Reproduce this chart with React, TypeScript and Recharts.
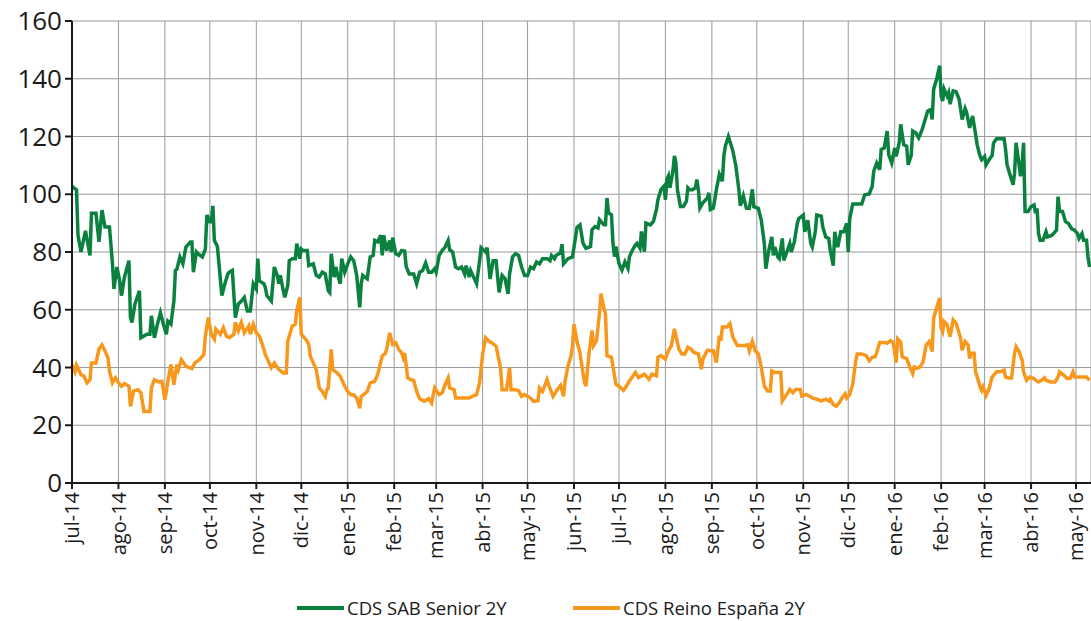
import { LineChart, Line, XAxis, YAxis, CartesianGrid } from 'recharts';

// x values are days counted from 1 Jul 2014
const monthTicks = [0, 31, 62, 92, 123, 153, 184, 215, 243, 274, 304, 335, 365, 396, 427, 457, 488, 518, 549, 580, 609, 640, 670];
const monthLabels = [
  'jul-14', 'ago-14', 'sep-14', 'oct-14', 'nov-14', 'dic-14', 'ene-15', 'feb-15', 'mar-15', 'abr-15', 'may-15', 'jun-15',
  'jul-15', 'ago-15', 'sep-15', 'oct-15', 'nov-15', 'dic-15', 'ene-16', 'feb-16', 'mar-16', 'abr-16', 'may-16',
];
const yTicks = [0, 20, 40, 60, 80, 100, 120, 140, 160];

const sabDays = [
  0, 3, 4, 6, 9, 12, 13, 16, 18, 20, 22, 25, 27, 28, 30, 32, 33, 35, 38, 39, 40, 42, 45, 46, 50, 52, 53, 55, 57, 59,
  61, 63, 64, 66, 68, 69, 70, 72, 74, 76, 79, 80, 81, 83, 84, 87, 89, 90, 92, 93, 94, 95, 97, 100, 102, 104,
  105, 107, 109, 111, 113, 115, 117, 119, 121, 123, 124, 125, 128, 129, 130, 133, 135, 137, 138, 139, 141, 142, 144,
  145, 147, 149, 150, 152, 153, 154, 157, 158, 161, 163, 165, 167, 169, 171, 172, 173, 175, 176, 178, 179, 180, 182,
  184, 186, 188, 190, 192, 193, 194, 197, 199, 201, 202, 204, 206, 207, 208, 210, 212, 213, 214, 216, 218,
  220, 222, 223, 225, 228, 230, 232, 234, 236, 238, 240, 242, 243, 245, 247, 249, 251, 252, 254, 256, 258, 260, 262,
  263, 265, 266, 268, 270, 272, 273, 276, 277, 279, 281, 283, 285, 287, 289, 291, 292, 294, 296, 298, 300, 302, 304,
  306, 308, 310, 312, 314, 317, 319, 320, 322, 323, 326, 327, 328, 331, 334,
  336, 337, 339, 341, 343, 346, 347, 349, 351, 352, 355, 356, 357, 358, 360, 361, 362, 363, 365, 367, 369, 371, 372,
  374, 376, 377, 379, 380, 382, 383, 386, 388, 390, 391, 393, 395, 396, 397, 398, 399, 401, 402, 403, 404, 406, 408,
  410, 411, 412, 414, 416, 417, 418, 419, 421, 424, 425, 426, 428, 430, 432, 434, 435, 436, 438, 440, 441, 443, 445,
  446, 448, 450, 452, 454, 455, 458, 460, 462, 463, 465, 467, 468, 469, 471, 472, 474, 475, 477, 479, 480, 482, 484,
  485, 488, 489, 491, 493, 494, 496, 497, 500, 501, 503, 505, 506, 508, 509, 511, 513, 515, 517, 518, 519, 521, 525,
  527, 529, 532, 534, 535, 537, 539, 540, 542, 544, 545, 547, 549, 550, 552, 553, 555, 557, 558, 560, 561, 563, 565,
  567, 569, 571, 573, 574, 575, 577, 579, 580, 581, 582, 584, 585, 586, 588, 590, 592, 593, 594, 596, 597, 599, 600,
  601, 603, 604, 606, 607, 609, 610, 612, 614, 615, 617, 619, 622, 623, 624, 626, 628, 629, 630, 632, 633, 634, 635,
  636, 638, 640, 642, 643, 644, 645, 646, 648, 650, 651, 654, 656, 657, 658, 659, 661, 663, 665, 667, 669, 671, 672,
  674, 675, 677, 678, 679,
];
const sabValues = [
  102.7, 101.5, 85.8, 80, 87.3, 78.8, 93.4, 93.4, 83.5, 94.5, 88.7, 88.7, 76, 67.2, 74.8, 69.5, 64.9, 71.3, 77, 57.3,
  55.6, 62, 66.6, 50.3, 51.5, 51.5, 57.9, 50.3, 55, 59, 55, 51.5, 56, 55, 63, 73.6, 74, 78.3, 76, 81.7, 83.5, 83.5,
  73, 80, 79.4, 78.3, 81, 92.8, 90.5, 90.5, 96, 84, 82, 64.9, 69, 72.4,
  73, 73.6, 57.3, 62, 63, 64.3, 59.6, 59.6, 69, 67.2, 77.7, 70, 69, 67.8, 64.9, 63, 74.8, 71.9, 69, 71.9, 66.6, 64.3,
  68.4, 77, 77.7, 77.7, 82.9, 77.7, 81, 80.5, 80.5, 75.3, 75.9, 71.9, 71.3, 73, 72.4, 66.6, 66, 79.4, 71.3, 74.8, 70.7,
  69, 77.7, 73, 75.9, 78.3, 77, 71.9, 60.8, 69, 71.9, 70.7, 78.3, 78.8, 84, 83.5, 85.8, 78.8, 85.8, 80.5, 84, 80, 85,
  79.4, 78.8,
  80.5, 80.3, 75, 72.4, 72.4, 69, 73, 73.6, 76.2, 73, 73, 74.2, 73, 78.8, 80.5, 81.7, 84, 80.8, 80, 74.8, 74.2, 74.8,
  72.4, 75.3, 71.3, 73.6, 71.3, 69, 77, 81.5, 80, 81.5, 70.7, 77, 77, 66, 71.9, 70.7, 65.5, 72.4, 78.3, 79.4, 78.8,
  74.8, 71.9, 71.9, 74.8, 74.2, 76.5, 75.9, 77.7, 77.7, 77, 78.8, 77.7, 78.8, 79.7, 82.7, 75.9, 77.7, 78.3,
  85, 88.5, 89.4, 83, 81.3, 81.9, 87.7, 88.8, 88.3, 91.2, 89.4, 89.4, 98.7, 93.5, 92.9, 83, 78.4, 81.9, 76, 73.7, 76.6,
  74.3, 78.4, 80.7, 82.4, 83, 81.3, 87.1, 80.1, 90, 89.4, 90.6, 94.7, 98.1, 101.6, 102.8, 98.1, 105.1, 106.3, 102.2,
  108, 113.3, 111, 101.6, 95.8, 95.8, 97.6, 102.2, 101.6, 101.6, 102.2, 105.1, 101.6, 95.2, 97, 98.7, 100.5, 94.7,
  95.2, 101.6, 106.9, 104.5, 113.3, 116.7, 120, 116.7, 115, 109.8, 101.6,
  96, 99.5, 95.2, 95.1, 101.7, 95.7, 95.1, 91, 82.9, 74.2, 80.6, 85.2, 78.8, 81.7, 78.3, 77.7, 84.7, 77.1, 80, 82.9, 80,
  83.5, 89.9, 91.6, 92.8, 87, 91, 82.9, 81.7, 87, 92.8, 92.4, 88.7, 85.2, 84.7, 80.6, 75.3, 87, 81.7, 87, 87, 89.9, 80,
  91.6, 96.6, 96.6, 96.6, 99.8, 100.1, 102.7, 107.9, 110.8, 108.5, 115.5, 116, 121.9, 113.7, 110.8, 116, 113.1, 117.8,
  124.2, 117.2, 116.6, 110.2, 113.4, 121.9, 121.3, 119.5, 121.9, 125.3, 128.8, 129.4, 125.9, 136.4, 139.9, 144.5, 134,
  132.3, 136.4, 134, 135.2, 131.2, 135.8, 135.5, 132.9, 129.4, 125.9, 129.7, 128.3, 123, 125.3, 127.1, 120.7, 117.2,
  113.1, 112, 113.1, 110.2, 112, 113.4, 117.8, 119.2, 119.2, 119.2, 115.5, 110.2, 106.7, 103.3, 107.3, 117.8, 110.2,
  106.2, 110.2, 117.8, 94, 94, 95.7, 96.3, 93.4, 95.1, 86.4, 84.1, 84.1, 87, 85.2, 85.8, 87, 87.6, 99.2, 94, 94, 90.5,
  89.9, 88.1, 87.6, 86.4, 84.7, 86.4, 84.1, 84.1, 78.3, 74.8,
];

const reinoDays = [
  0, 2, 3, 6, 8, 10, 12, 13, 16, 18, 20, 22, 24, 25, 27, 29, 31, 33, 35, 38, 39, 41, 44, 46, 48, 52, 53, 55, 58, 60,
  62, 64, 66, 68, 70, 71, 73, 76, 80, 82, 85, 88, 89, 91, 93, 95, 96, 99, 101, 103,
  105, 108, 109, 111, 113, 115, 118, 119, 121, 123, 125, 127, 129, 131, 133, 135, 138, 141, 143, 144, 147, 149, 150,
  152, 153, 156, 158, 159, 161, 163, 165, 167, 169, 170, 171, 173, 174, 177, 179, 182, 184, 186, 188, 190, 192, 193,
  196, 197, 199, 202, 204, 207, 209, 210, 212, 214, 216, 218, 220, 221, 222, 224, 226, 228, 230, 232, 235, 238, 240,
  242, 245, 247, 249, 251, 252, 255, 256, 260, 265, 267, 270, 272, 274, 276, 278, 280, 283, 286, 287, 290, 292, 293,
  296, 298, 300, 302, 306, 308, 311, 312, 314, 317, 318, 321, 323, 326, 328, 329, 331, 333, 334, 335, 337, 339, 341,
  342, 343, 345, 347, 348, 350, 352, 353, 355, 356, 357, 360, 362, 363, 366, 368, 370, 372, 376, 378, 380, 382, 385,
  387, 390, 391, 393, 396, 398, 400, 402, 405, 407, 409, 411, 413, 415, 418, 420, 421, 424, 426, 428, 430, 432, 433,
  434, 437, 439, 441, 444, 446, 449, 451, 452, 454, 456, 458, 460, 462, 464, 466, 467, 469, 473, 474, 477, 479, 481,
  483, 486, 487, 490, 494, 497, 500, 503, 505, 506, 508, 510, 512, 514, 516, 517, 519, 521, 523, 524, 527, 530, 532,
  534, 536, 537, 539, 542, 544, 546, 548, 549, 550, 551, 553, 554, 557, 559, 561, 562, 564, 566, 568, 570, 572, 574,
  575, 577, 579, 580, 581, 582, 584, 586, 588, 590, 592, 593, 594, 596, 598, 599, 600, 602, 603, 606, 607, 608, 610,
  612, 614, 616, 617, 619, 622, 623, 625, 627, 629, 630, 632, 634, 635, 637, 639, 642, 643, 645, 647, 649, 650, 653,
  656, 658, 659, 662, 664, 666, 668, 669, 672, 675, 677, 679,
];
const reinoValues = [
  41, 38.5, 40.8, 37.5, 37, 34.7, 35.8, 41.6, 41.6, 46.3, 47.8, 45.7, 43.4, 38.7, 34.7, 36.4, 34.7, 33.5, 34.4, 33.5,
  26.5, 31.8, 32.3, 31.2, 24.8, 24.8, 33, 35.8, 35, 35.2, 28.8, 35.2, 41, 34, 41, 39.3, 42.7, 40.4, 39.6, 41.6, 42.7,
  44.5, 50.9, 57.3, 51.5, 49.8, 53.3, 51.5, 53.8, 50.9,
  50.3, 51.5, 55.6, 52.7, 55.6, 52, 54.4, 51.5, 55, 52, 50.9, 48, 44.5, 42.2, 39.9, 41.6, 39.3, 38.1, 38.1, 49.2, 54.4,
  55, 59.6, 64.3, 51.5, 49.8, 48, 44, 41.6, 39.3, 32.9, 31.7, 30, 32.3, 32.9, 46.3, 39.3, 38.1, 37, 33.5, 31.7, 30.6,
  30.6, 29.4, 25.9, 30, 31.2, 31.7, 34.7, 35.2, 37.6, 44, 44.8, 46.3, 52, 48, 48.6, 46.3, 45.1, 43.4, 45, 36.4, 35.8,
  35.5, 31.7, 29.2, 28.3, 29.2, 27.7, 32.9, 30.6, 31.2, 34.1, 36.4, 32.9, 32.3, 29.4, 29.4, 29.4, 30, 30.6, 34.7, 44.5,
  50.3, 49.2, 48.6, 47.4, 39.9, 32.3, 32.3, 39.9, 32.3, 32.3, 32, 30, 30.6, 29.4, 28.3, 28.5, 32.9, 31.7, 35.8, 34.1,
  30, 31.7, 33.8, 30, 35.2, 40.5, 44, 47.4, 55, 49, 45, 38, 34.8, 33.6, 44.7, 52.8, 47.6, 49.3, 58.6, 65.6, 60.4,
  58.6, 44.1, 43.5, 37.1, 34.2, 33, 32.1, 33.6, 35.3, 38.3, 36.5, 37.1, 37.7, 35.9, 37.7, 37.1, 43.5, 44.1, 42.9,
  45.8, 47.6, 53.4, 46.4, 44.7, 44.7, 47, 46.4, 45.2, 44.7, 39.4, 42.9, 46, 45.8, 45.8, 41.7, 51, 49.3, 54, 54, 55.2,
  50.5, 47.6, 47.6, 47.6, 47.9, 45.8, 49.1, 45.8, 44.7, 40, 33.6, 31.9, 31.9, 38.8, 38.3, 38.3, 28.4, 30.7, 32.4,
  31.3, 32.4, 32.4, 30.1, 30.7, 29.5, 29, 28.4, 29, 28.4, 29, 27.2, 26.6, 27.8, 29.5, 30.9, 29.5, 30.7, 34.2, 42.3,
  44.7, 44.7, 44.1, 42.3, 43.5, 43.7, 45.2, 48.7, 48.7, 48.4, 49.3, 48.7, 45.2, 41.7, 49.9, 48.8, 43.7, 43.1, 40.2,
  37.9, 40.2, 39.7, 40.2, 42, 47.8, 49, 45.5, 57.1, 60.6, 64.1, 53.6, 52.4, 55.9, 54.8, 50.7, 56.5, 55.3, 51.9, 50.1,
  46, 49, 47.8, 43.1, 44.9, 44.9, 38.5, 33.3, 32.1, 33.3, 30.3, 32.7, 36.7, 37.9, 38.5, 38.5, 39.1, 36.7, 36.4, 36.4,
  44.9, 47.2, 45.5, 42.6, 38.5, 35.6, 36.7, 36.2, 35.6, 35, 35.6, 36.4, 35.6, 35, 35, 36.7, 38.5, 37.3, 36.2, 36.2,
  38.5, 36.7, 36.7, 36.7, 36.7, 35.6,
];

const sabData = sabDays.map((day, i) => ({ day, value: sabValues[i] }));
const reinoData = reinoDays.map((day, i) => ({ day, value: reinoValues[i] }));

const GREEN = '#0b8140';
const ORANGE = '#f7981d';
const FONT = "'Open Sans', 'DejaVu Sans', sans-serif";

function MonthTick({ x, y, payload }: any) {
  const label = monthLabels[monthTicks.indexOf(payload.value)];
  return (
    <text
      x={x}
      y={y}
      dy="0.36em"
      transform={`rotate(-90 ${x} ${y})`}
      textAnchor="end"
      fontFamily={FONT}
      fontSize={20}
      fill="#1a1a1a"
    >
      {label}
    </text>
  );
}

function LegendItem({ color, label }: { color: string; label: string }) {
  return (
    <div style={{ display: 'flex', alignItems: 'center' }}>
      <div style={{ width: 47, height: 4, background: color, marginRight: 3 }} />
      <span>{label}</span>
    </div>
  );
}

export default function App() {
  // fixed box so the page never grows scrollbars
  return (
    <div style={{ position: 'fixed', top: 0, left: 0, width: 1091, height: 621, overflow: 'hidden', background: '#fff' }}>
      <LineChart width={1091} height={621} margin={{ top: 21, right: 0, left: 8, bottom: 40 }}>
        <CartesianGrid stroke="#9a9a9a" strokeWidth={1} />
        <XAxis
          type="number"
          dataKey="day"
          domain={[0, 680]}
          ticks={monthTicks}
          interval={0}
          height={98}
          tick={<MonthTick />}
          tickSize={6}
          tickMargin={3}
          axisLine={{ stroke: '#1a1a1a', strokeWidth: 2 }}
          tickLine={{ stroke: '#1a1a1a', strokeWidth: 2 }}
          allowDuplicatedCategory={false}
        />
        <YAxis
          type="number"
          domain={[0, 160]}
          ticks={yTicks}
          interval={0}
          width={64}
          tickSize={7}
          tickMargin={3}
          axisLine={{ stroke: '#1a1a1a', strokeWidth: 2 }}
          tickLine={{ stroke: '#1a1a1a', strokeWidth: 2 }}
          tick={{ fontFamily: FONT, fontSize: 26, fill: '#1a1a1a' }}
        />
        <Line
          data={reinoData}
          dataKey="value"
          type="linear"
          stroke={ORANGE}
          strokeWidth={3.5}
          dot={false}
          isAnimationActive={false}
        />
        <Line
          data={sabData}
          dataKey="value"
          type="linear"
          stroke={GREEN}
          strokeWidth={3.5}
          dot={false}
          isAnimationActive={false}
        />
      </LineChart>
      <div
        style={{
          position: 'absolute',
          top: 596,
          left: 297,
          display: 'flex',
          fontFamily: FONT,
          fontSize: 18.5,
          color: '#1a1a1a',
          lineHeight: '24px',
        }}
      >
        <div style={{ width: 276 }}>
          <LegendItem color={GREEN} label="CDS SAB Senior 2Y" />
        </div>
        <LegendItem color={ORANGE} label="CDS Reino España 2Y" />
      </div>
    </div>
  );
}
